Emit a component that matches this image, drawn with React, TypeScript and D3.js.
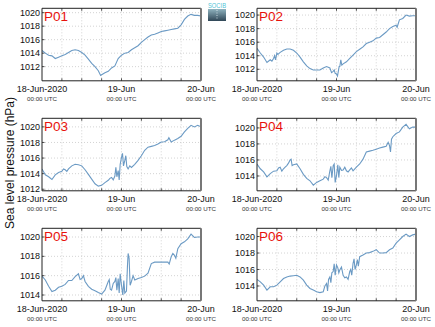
import React from "react";
import * as d3 from "d3";

const stations = ["P01", "P02", "P03", "P04", "P05", "P06"];
const startTime = new Date(Date.UTC(2020, 5, 18, 0));
const endTime = new Date(Date.UTC(2020, 5, 20, 0));

// hourly sea level pressure (hPa), hours 0..48 from 18-Jun-2020 00:00 UTC
const p01 = [1014.4,1014.0,1013.7,1013.6,1013.2,1013.4,1013.6,1013.8,1014.1,1014.4,1014.5,1014.4,1014.1,1013.7,1013.1,1012.5,1012.0,1011.4,1010.8,1011.1,1011.3,1011.8,1012.1,1013.2,1013.7,1014.0,1014.1,1014.5,1014.8,1015.1,1015.6,1016.0,1016.4,1016.7,1016.8,1017.0,1017.2,1017.3,1017.4,1017.5,1017.6,1017.7,1018.2,1019.0,1019.5,1019.75,1019.6,1019.6,1019.5];
const p02 = [1015.1,1014.4,1013.8,1013.0,1013.4,1013.6,1014.4,1014.5,1014.8,1015.0,1015.0,1014.8,1014.4,1013.8,1013.1,1012.5,1012.1,1011.9,1011.9,1011.9,1012.2,1012.4,1012.2,1011.7,1011.3,1012.4,1012.8,1013.1,1013.6,1014.1,1014.6,1014.95,1015.3,1015.8,1016.0,1016.2,1016.6,1016.7,1017.1,1017.5,1018.0,1018.3,1018.5,1019.3,1019.5,1020.0,1019.85,1019.9,1019.9];
const p03 = [1014.6,1013.85,1013.6,1013.25,1013.85,1014.15,1014.3,1014.5,1014.6,1015.0,1015.2,1015.15,1015.0,1014.5,1013.9,1013.3,1012.7,1012.4,1012.5,1012.85,1013.15,1013.5,1013.7,1014.4,1016.1,1015.7,1014.6,1014.8,1015.2,1015.7,1016.3,1017.0,1017.4,1017.5,1017.6,1017.8,1018.05,1018.1,1018.35,1018.05,1018.3,1018.5,1018.8,1019.35,1019.8,1020.2,1020.0,1020.2,1020.0];
const p04 = [1015.5,1014.9,1014.5,1013.9,1014.3,1014.6,1014.65,1015.1,1014.9,1015.3,1016.0,1015.4,1015.5,1014.9,1014.2,1013.7,1013.4,1012.85,1013.2,1013.4,1013.6,1013.8,1014.65,1015.3,1014.05,1015.1,1014.75,1014.65,1014.75,1014.65,1015.1,1015.5,1016.1,1017.0,1017.1,1017.2,1017.35,1017.5,1017.6,1017.7,1017.8,1018.9,1019.3,1019.5,1020.1,1020.45,1019.9,1020.1,1020.1];
const p05 = [1015.95,1015.55,1014.9,1014.35,1014.5,1014.8,1014.9,1015.1,1015.5,1015.5,1015.9,1016.2,1015.7,1015.4,1014.9,1014.6,1014.45,1014.25,1014.1,1014.5,1015.4,1014.5,1015.4,1015.7,1015.0,1014.2,1018.3,1015.4,1015.55,1015.7,1015.8,1015.95,1016.25,1017.25,1017.4,1017.4,1017.4,1017.4,1017.4,1017.95,1018.1,1018.8,1019.3,1019.5,1019.8,1020.3,1019.95,1020.0,1020.0];
const p06 = [1014.8,1014.5,1014.1,1013.5,1013.9,1013.9,1014.1,1014.5,1014.9,1015.1,1015.2,1015.25,1015.3,1015.1,1014.7,1014.1,1013.7,1013.5,1013.3,1013.2,1013.3,1014.3,1015.1,1015.75,1016.55,1015.95,1015.3,1015.1,1015.75,1016.75,1016.55,1017.55,1017.75,1018.0,1018.05,1018.2,1018.4,1018.0,1018.0,1018.05,1018.4,1018.6,1019.2,1019.6,1020.0,1020.3,1020.0,1020.2,1020.3];

// extra sub-hourly readings in the noisy stretches: [hour, hPa]
const p01Extra: [number, number][] = [[17.7, 1010.7]];
const p02Extra: [number, number][] = [[4.5,1013.2],[5.3,1014.0],[5.6,1013.4],[6.3,1014.2],[22.5,1011.5],[23.3,1011.9],[23.6,1011.4],[24.3,1011.0],[24.8,1012.4],[25.3,1013.4],[25.6,1012.6],[42.3,1018.2]];
const p03Extra: [number, number][] = [[6.5,1014.6],[7.5,1014.3],[20.5,1013.4],[21.5,1013.2],[22.3,1014.8],[22.6,1013.6],[23.3,1013.2],[23.6,1015.2],[24.3,1016.6],[24.6,1015.0],[25.3,1016.3],[25.6,1014.9],[26.5,1015.0],[38.3,1018.6]];
const p04Extra: [number, number][] = [[6.5,1015.0],[7.5,1014.6],[8.5,1015.1],[9.5,1015.6],[10.3,1016.1],[10.6,1015.3],[20.5,1013.9],[21.5,1013.5],[22.3,1015.2],[22.6,1013.8],[23.3,1015.5],[23.6,1013.2],[24.4,1015.4],[24.7,1013.8],[25.5,1014.7],[26.5,1015.1],[27.5,1014.5],[28.5,1015.0],[39.6,1018.2],[40.3,1017.0],[40.6,1018.6]];
const p05Extra: [number, number][] = [[11.5,1015.6],[12.5,1016.0],[20.3,1015.6],[20.6,1014.6],[21.5,1015.2],[22.3,1015.8],[22.6,1014.5],[23.3,1014.2],[23.6,1016.2],[24.4,1014.0],[24.7,1015.5],[25.5,1014.4],[25.8,1017.0],[26.3,1017.8],[26.6,1015.0],[27.5,1016.0],[38.4,1017.2],[39.5,1018.3],[40.4,1017.8]];
const p06Extra: [number, number][] = [[20.5,1014.0],[21.3,1013.4],[21.6,1014.8],[22.3,1014.4],[22.6,1015.6],[23.3,1016.7],[23.6,1015.3],[24.4,1016.2],[24.7,1015.6],[25.5,1016.3],[26.5,1015.0],[27.5,1014.8],[28.3,1016.0],[28.6,1015.3],[29.3,1017.3],[29.6,1016.0],[30.3,1017.2],[30.6,1016.4]];

const hourly = [p01, p02, p03, p04, p05, p06];
const extras = [p01Extra, p02Extra, p03Extra, p04Extra, p05Extra, p06Extra];
const yDomains: [number, number][] = [[1009.9,1020.65],[1010.3,1021.0],[1011.8,1021.1],[1012.15,1021.2],[1013.4,1020.9],[1012.2,1021.0]];
const yTickValues = [[1012,1014,1016,1018,1020],[1012,1014,1016,1018,1020],[1012,1014,1016,1018,1020],[1014,1016,1018,1020],[1014,1016,1018,1020],[1014,1016,1018,1020]];
const xTickDates = ["18-Jun-2020", "19-Jun", "20-Jun"];
const xTickTimes = ["00:00 UTC", "00:00 UTC", "00:00 UTC"];

const FONT = "'Liberation Sans', Arial, Helvetica, sans-serif";
const W = 159;
const H = 72.5;
const LINE = "#6b9ac4";

function Panel({ idx }: { idx: number }) {
  const col = idx % 2;
  const row = Math.floor(idx / 2);
  const x0 = 42 + col * 215;
  const y0 = 8.3 + row * 110;
  const x = d3.scaleUtc().domain([startTime, endTime]).range([0, W]);
  const y = d3.scaleLinear().domain(yDomains[idx]).range([H, 0]);
  const pts: [Date, number][] = [
    ...hourly[idx].map((v, h) => [new Date(startTime.getTime() + h * 3600e3), v] as [Date, number]),
    ...extras[idx].map(([h, v]) => [new Date(startTime.getTime() + h * 3600e3), v] as [Date, number]),
  ].sort((a, b) => a[0].getTime() - b[0].getTime());
  const line = d3.line<[Date, number]>().x((d) => x(d[0])).y((d) => y(d[1]));
  const gridTimes = d3.utcHour.every(6)!.range(startTime, endTime).slice(1);
  const labelTimes = d3.utcDay.range(startTime, new Date(endTime.getTime() + 1));
  const clipId = `clip${idx}`;
  return (
    <g transform={`translate(${x0},${y0})`}>
      <defs>
        <clipPath id={clipId}><rect x={0} y={0} width={W} height={H} /></clipPath>
      </defs>
      {gridTimes.map((t, i) => (
        <g key={"v" + i}>
          <line x1={x(t)} x2={x(t)} y1={0} y2={H} stroke="#c8c8c8" strokeWidth={0.8} strokeDasharray="1,2" />
          <line x1={x(t)} x2={x(t)} y1={H} y2={H - 2.5} stroke="#222" strokeWidth={0.8} />
          <line x1={x(t)} x2={x(t)} y1={0} y2={2.5} stroke="#222" strokeWidth={0.8} />
        </g>
      ))}
      {yTickValues[idx].map((v) => (
        <g key={"h" + v}>
          <line x1={0} x2={W} y1={y(v)} y2={y(v)} stroke="#c8c8c8" strokeWidth={0.8} strokeDasharray="1,2" />
          <line x1={0} x2={2.5} y1={y(v)} y2={y(v)} stroke="#222" strokeWidth={0.8} />
          <text x={-2} y={y(v)} dy="0.35em" textAnchor="end" fontSize={9} fontFamily={FONT} fill="#111">{v}</text>
        </g>
      ))}
      <path d={line(pts) || ""} fill="none" stroke={LINE} strokeWidth={1.1} clipPath={`url(#${clipId})`} />
      <line x1={0} x2={W} y1={0} y2={0} stroke="#222" strokeWidth={1} />
      <line x1={0} x2={0} y1={0} y2={H} stroke="#222" strokeWidth={1} />
      <line x1={0} x2={W} y1={H} y2={H} stroke="#222" strokeWidth={1} />
      <line x1={W} x2={W} y1={0} y2={H} stroke="#777" strokeWidth={2} />
      {labelTimes.map((t, i) => (
        <g key={"l" + i}>
          <text x={x(t)} y={H + 11} textAnchor="middle" fontSize={9} fontFamily={FONT} fill="#111">{xTickDates[i]}</text>
          <text x={x(t)} y={H + 20.5} textAnchor="middle" fontSize={6.2} fontFamily={FONT} fill="#333">{xTickTimes[i]}</text>
        </g>
      ))}
      <text x={2} y={12.5} fontSize={13.5} fontFamily={FONT} fill="#e8120c">{stations[idx]}</text>
    </g>
  );
}

export default function App() {
  return (
    <svg width={435} height={327} style={{ position: "absolute", left: 0, top: 0, background: "#fff" }}>
      <defs>
        <linearGradient id="logoGrad" x1="0" y1="0" x2="0" y2="1">
          <stop offset="0" stopColor="#8fb3bf" />
          <stop offset="1" stopColor="#2f4656" />
        </linearGradient>
      </defs>
      <rect width={435} height={327} fill="#fff" />
      {stations.map((_, i) => <Panel key={i} idx={i} />)}
      <text transform="translate(14,163) rotate(-90)" textAnchor="middle" fontSize={12} fontFamily={FONT} fill="#111">Sea level pressure (hPa)</text>
      <g>
        <text x={208} y={8} textLength={18} lengthAdjust="spacingAndGlyphs" fontSize={8} fontFamily={FONT} fill="#4fc3d6">SOCIB</text>
        <rect x={208} y={9} width={18} height={12} fill="url(#logoGrad)" />
        <line x1={217} x2={217} y1={10} y2={20} stroke="#dfeef2" strokeWidth={0.8} strokeDasharray="1,1.5" />
      </g>
    </svg>
  );
}
